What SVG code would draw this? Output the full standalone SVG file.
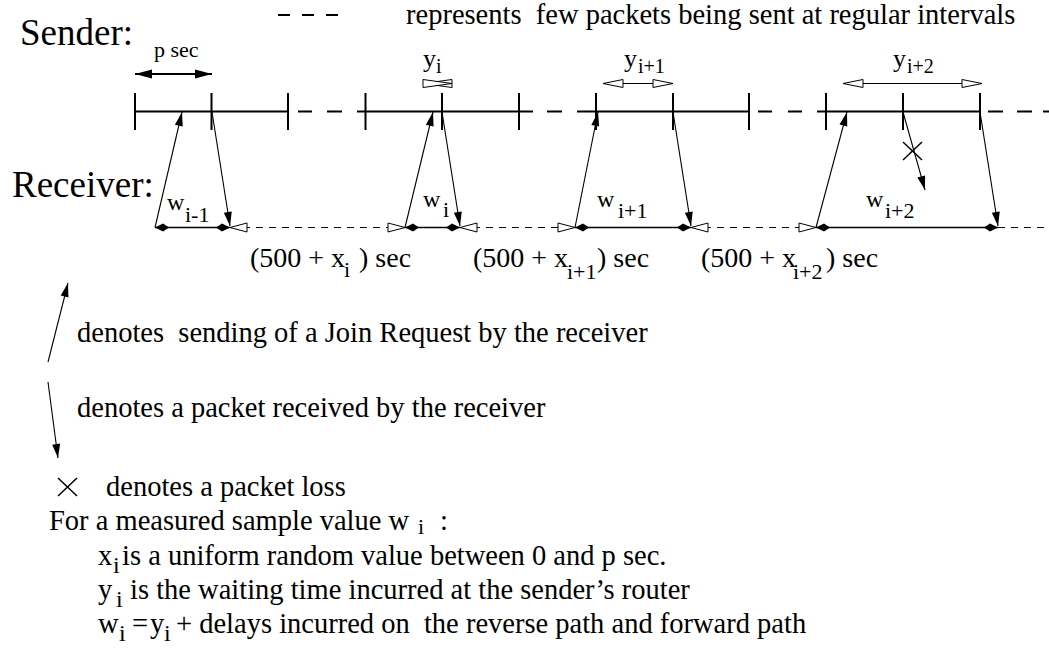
<svg xmlns="http://www.w3.org/2000/svg" width="1049" height="662" viewBox="0 0 1049 662" font-family="'Liberation Serif', 'Times New Roman', serif">
<style>
text{font-family:"Liberation Serif","Times New Roman",serif;fill:#000;white-space:pre}
.big{font-size:37px}
.body{font-size:28.5px}
.lab{font-size:28px}
.sm{font-size:22px}
.ln{stroke:#000;fill:none}
.snd{stroke:#000;stroke-width:2;fill:none}
.rdash{stroke:#000;stroke-width:1;stroke-dasharray:7 6;fill:none}
.arr{stroke:#000;stroke-width:1.1;fill:none;marker-end:url(#fh)}
.open{fill:#fff;stroke:#000;stroke-width:1}
</style>
<defs>
<marker id="fh" markerUnits="userSpaceOnUse" viewBox="-16 -6 17 12" refX="0" refY="0" markerWidth="17" markerHeight="12" orient="auto"><path d="M0,0 L-14,-4 L-14,4 Z" fill="#000"/></marker>
<marker id="ph" markerUnits="userSpaceOnUse" viewBox="-18 -6 19 12" refX="0" refY="0" markerWidth="19" markerHeight="12" orient="auto-start-reverse"><path d="M0,0 L-17,-4.5 L-17,4.5 Z" fill="#000"/></marker>
<marker id="kh" markerUnits="userSpaceOnUse" viewBox="-16 -6 17 12" refX="0" refY="0" markerWidth="17" markerHeight="12" orient="auto-start-reverse"><path d="M0,0 L-8,-4 L-14,0 L-8,4 Z" fill="#000"/></marker>
<marker id="oh" markerUnits="userSpaceOnUse" viewBox="-22 -6 23 12" refX="0" refY="0" markerWidth="23" markerHeight="12" orient="auto-start-reverse"><path d="M0,0 L-20,-4 L-20,4 Z" fill="#fff" stroke="#000" stroke-width="1"/></marker>
<marker id="rh" markerUnits="userSpaceOnUse" viewBox="-19 -6 20 12" refX="0" refY="0" markerWidth="20" markerHeight="12" orient="auto-start-reverse"><path d="M0,0 L-17,-4.5 L-17,4.5 Z" fill="#fff" stroke="#000" stroke-width="1" stroke-dasharray="none"/></marker>
</defs>

<g id="labels">
<text class="big" x="20" y="45">Sender:</text>
<text class="big" x="12" y="197">Receiver:</text>
</g>

<g id="legend-top">
<g class="snd" stroke-width="1.5">
<line x1="278" y1="15" x2="290" y2="15"/><line x1="302" y1="15" x2="314" y2="15"/><line x1="326" y1="15" x2="338" y2="15"/>
</g>
<text class="body" x="406" y="24">represents  few packets being sent at regular intervals</text>
</g>

<g id="sender-timeline">
<g class="snd">
<line x1="135" y1="111.5" x2="288" y2="111.5"/>
<line x1="357" y1="111.5" x2="533" y2="111.5"/>
<line x1="577" y1="111.5" x2="749" y2="111.5"/>
<line x1="817" y1="111.5" x2="980" y2="111.5"/>
<line x1="298" y1="111.5" x2="312" y2="111.5"/><line x1="327" y1="111.5" x2="342" y2="111.5"/>
<line x1="547" y1="111.5" x2="562" y2="111.5"/>
<line x1="758" y1="111.5" x2="772" y2="111.5"/><line x1="788" y1="111.5" x2="802" y2="111.5"/>
<line x1="988" y1="111.5" x2="1003" y2="111.5"/><line x1="1017" y1="111.5" x2="1032" y2="111.5"/><line x1="1043" y1="111.5" x2="1049" y2="111.5"/>
</g>
<g class="snd">
<line x1="135" y1="93" x2="135" y2="130"/><line x1="211.5" y1="93" x2="211.5" y2="130"/><line x1="288" y1="93" x2="288" y2="130"/>
<line x1="365.5" y1="93" x2="365.5" y2="130"/><line x1="442" y1="93" x2="442" y2="130"/><line x1="519" y1="93" x2="519" y2="130"/>
<line x1="596" y1="93" x2="596" y2="130"/><line x1="673" y1="93" x2="673" y2="130"/><line x1="749" y1="93" x2="749" y2="130"/>
<line x1="826" y1="93" x2="826" y2="130"/><line x1="903" y1="93" x2="903" y2="130"/><line x1="980" y1="93" x2="980" y2="130"/>
</g>
</g>

<g id="p-sec">
<text class="sm" x="154" y="57">p sec</text>
<line class="ln" stroke-width="2" x1="135" y1="74" x2="212" y2="74" marker-start="url(#ph)" marker-end="url(#ph)"/>
</g>

<g id="y-i">
<text x="423" y="67" font-size="26">y<tspan x="436" y="73" font-size="20">i</tspan></text>
<polygon class="open" points="423,83.5 452,79.5 452,87.5"/>
<polygon class="open" points="452,83.5 423,79.5 423,87.5"/>
</g>
<g id="y-i1">
<text x="624" y="67" font-size="26">y<tspan x="638" y="73" font-size="20">i+1</tspan></text>
<line class="ln" stroke-width="1" x1="603" y1="83.5" x2="673" y2="83.5" marker-start="url(#oh)" marker-end="url(#oh)"/>
</g>
<g id="y-i2">
<text x="893" y="67" font-size="26">y<tspan x="907" y="73" font-size="20">i+2</tspan></text>
<line class="ln" stroke-width="1" x1="843" y1="83.5" x2="982" y2="83.5" marker-start="url(#oh)" marker-end="url(#oh)"/>
</g>

<g id="receiver-timeline">
<line class="rdash" x1="230" y1="227.5" x2="405" y2="227.5" marker-start="url(#rh)" marker-end="url(#rh)"/>
<line class="rdash" x1="460" y1="227.5" x2="575" y2="227.5" marker-start="url(#rh)" marker-end="url(#rh)"/>
<line class="rdash" x1="691" y1="227.5" x2="816" y2="227.5" marker-start="url(#rh)" marker-end="url(#rh)"/>
<line class="rdash" x1="998" y1="227.5" x2="1049" y2="227.5"/>
<g class="ln" stroke-width="1.4">
<line x1="155" y1="227.5" x2="230" y2="227.5" marker-start="url(#kh)" marker-end="url(#kh)"/>
<line x1="405" y1="227.5" x2="460" y2="227.5" marker-start="url(#kh)" marker-end="url(#kh)"/>
<line x1="575" y1="227.5" x2="691" y2="227.5" marker-start="url(#kh)" marker-end="url(#kh)"/>
<line x1="816" y1="227.5" x2="998" y2="227.5" marker-start="url(#kh)" marker-end="url(#kh)"/>
</g>
</g>

<g id="w-labels" class="sm">
<text x="167" y="210" font-size="24">w<tspan x="185" y="222" font-size="22">i-1</tspan></text>
<text x="423" y="207" font-size="24">w<tspan x="443" y="217" font-size="22">i</tspan></text>
<text x="597" y="207" font-size="24">w<tspan x="618" y="218" font-size="22">i+1</tspan></text>
<text x="866" y="207" font-size="24">w<tspan x="885" y="218" font-size="22">i+2</tspan></text>
</g>

<g id="interval-labels" class="lab">
<text x="250" y="267">(500 + x<tspan x="344" y="277" font-size="22">i</tspan><tspan x="359" y="267">) sec</tspan></text>
<text x="473" y="267">(500 + x<tspan x="567" y="279" font-size="22">i+1</tspan><tspan x="597" y="267">) sec</tspan></text>
<text x="701" y="267">(500 + x<tspan x="793" y="279" font-size="22">i+2</tspan><tspan x="826" y="267">) sec</tspan></text>
</g>

<g id="connectors">
<line class="arr" x1="155" y1="227.5" x2="182" y2="112"/>
<line class="arr" x1="212" y1="112" x2="230" y2="226"/>
<line class="arr" x1="405" y1="227.5" x2="433" y2="112"/>
<line class="arr" x1="442" y1="112" x2="460" y2="226"/>
<line class="arr" x1="575" y1="227.5" x2="598" y2="112"/>
<line class="arr" x1="673" y1="112" x2="691" y2="226"/>
<line class="arr" x1="816" y1="227.5" x2="847" y2="112"/>
<line class="arr" x1="903" y1="112" x2="925" y2="190"/>
<line class="arr" x1="980" y1="112" x2="998" y2="226"/>
</g>

<g id="loss-mark" class="ln" stroke-width="1.5">
<line x1="903" y1="142" x2="922" y2="160"/><line x1="922" y1="142" x2="903" y2="160"/>
</g>

<g id="legend">
<line class="arr" x1="48" y1="362" x2="68" y2="283"/>
<text class="body" x="77" y="342">denotes  sending of a Join Request by the receiver</text>
<line class="arr" x1="48" y1="382" x2="58" y2="458"/>
<text class="body" x="77" y="417">denotes a packet received by the receiver</text>
<g class="ln" stroke-width="1.5"><line x1="58" y1="478" x2="77" y2="496"/><line x1="77" y1="478" x2="58" y2="496"/></g>
<text class="body" x="106" y="496">denotes a packet loss</text>
<text class="body" x="49" y="530">For a measured sample value w</text>
<text x="418" y="534" font-size="22">i</text>
<text class="body" x="440" y="530">:</text>
<text class="body" x="98" y="565">x<tspan x="113" y="573" font-size="24">i</tspan><tspan x="122" y="565">is a uniform random value between 0 and p sec.</tspan></text>
<text class="body" x="98" y="599">y<tspan x="116" y="607" font-size="24">i</tspan><tspan x="130" y="599">is the waiting time incurred at the sender’s router</tspan></text>
<text class="body" x="98" y="633">w<tspan x="119" y="641" font-size="24">i</tspan><tspan x="132" y="633">=</tspan><tspan x="150" y="633">y</tspan><tspan x="164" y="641" font-size="24">i</tspan><tspan x="176" y="633">+ delays incurred on  the reverse path and forward path</tspan></text>
</g>
</svg>
